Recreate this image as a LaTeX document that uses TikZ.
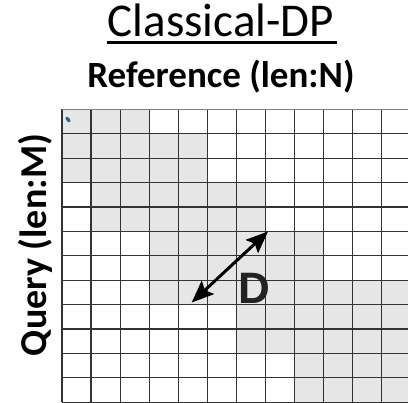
\documentclass[tikz,border=0pt]{standalone}
\usepackage{fontspec}
\setmainfont{Carlito}
\newfontfamily\dfont{Liberation Sans}
\usetikzlibrary{arrows.meta}
\definecolor{cellgray}{HTML}{E6E6E6}
\definecolor{gridline}{HTML}{333333}
\definecolor{dmark}{HTML}{222222}
\definecolor{seedmark}{HTML}{1E6E70}
\tikzset{
  cellfill/.style={fill=cellgray},
  gridrule/.style={draw=gridline, line width=1.2pt},
  toprule/.style={draw=gray, line width=1.6pt},
  titletext/.style={font=\fontsize{47}{47}\selectfont, inner sep=0pt},
  axistext/.style={font=\fontsize{37}{37}\selectfont\bfseries, inner sep=0pt},
  sidetext/.style={font=\fontsize{38}{38}\selectfont\bfseries, inner sep=0pt},
  bandarrow/.style={line width=3pt, {Stealth[length=22pt,width=18pt,inset=4pt]}-{Stealth[length=22pt,width=18pt,inset=4pt]}},
  bandlabel/.style={font=\fontsize{44}{44}\selectfont\dfont\bfseries, text=dmark, inner sep=0pt}
}
\begin{document}
\begin{tikzpicture}[x=1pt,y=-1pt]
\useasboundingbox (0,0) rectangle (408,403);
\clip (0,0) rectangle (408,403);
\def\cw{29.06}
\def\rh{24.4}
\def\gx{62}
\def\gy{109.5}
% band of cells reachable within the window, row by row
\foreach \r/\a/\b in {0/0/2,1/0/4,2/0/4,3/1/6,4/1/6,5/3/8,6/3/8,7/3/11,8/6/11,9/6/11,10/8/11,11/8/11}
  \fill[cellfill] ({\gx+\a*\cw},{\gy+\r*\rh}) rectangle ({\gx+(\b+1)*\cw},{\gy+(\r+1)*\rh});
% grid
\foreach \i in {0,...,12}
  \draw[gridrule] ({\gx+\i*\cw},\gy) -- ({\gx+\i*\cw},{\gy+12*\rh});
\foreach \j in {1,...,12}
  \draw[gridrule] (\gx,{\gy+\j*\rh}) -- ({\gx+12*\cw},{\gy+\j*\rh});
\draw[toprule] (\gx,\gy) -- ({\gx+12*\cw},\gy);
% start cell marker
\fill[seedmark, rotate around={40:(68,119.5)}] (68,119.5) ellipse (1.8pt and 3.2pt);
% titles
\node[titletext, anchor=base] (title) at (221,36.7) {Classical-DP};
\draw[line width=3pt] ([xshift=-1pt,yshift=-6pt]title.base west) -- ([xshift=3pt,yshift=-6pt]title.base east);
\node[axistext, anchor=base] (ref) at (221,88) {Reference (len:N)};
\node[sidetext, anchor=base, rotate=90] (query) at (46.5,245) {Query (len:M)};
% band width
\coordinate (dtop) at (268,231.5);
\coordinate (dbot) at (191.7,302.5);
\draw[bandarrow] (dbot) -- (dtop);
\node[bandlabel] (d) at (254,288.5) {D};
\end{tikzpicture}
\end{document}
